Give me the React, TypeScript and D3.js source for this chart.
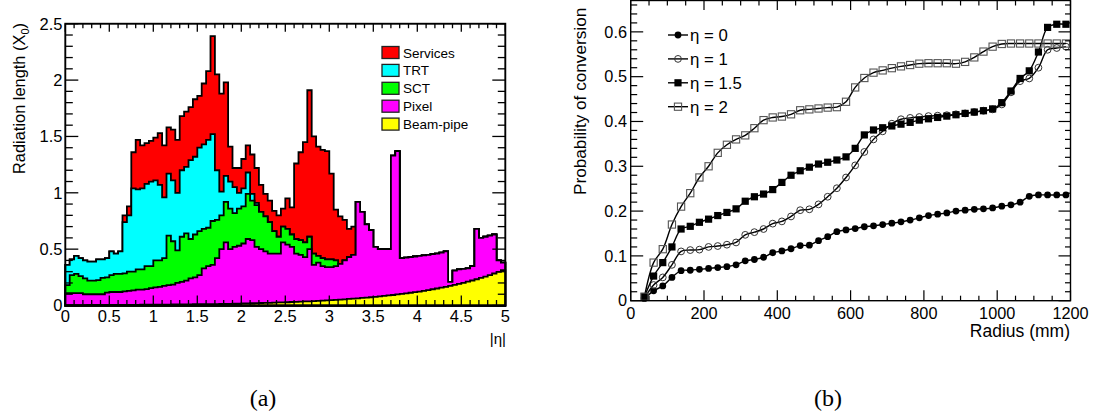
import React from "react";
import * as d3 from "d3";

// ---------- (a) material budget, stacked by sub-detector ----------
// Histogram bins in |eta| of width 0.05 starting at 0.
const ETA_BIN = 0.05;

// Cumulative radiation length (X0) up to and including each layer.
// Layers whose list ends early add nothing beyond that point.
const beamPipeTop = [
  0.004, 0.004, 0.004, 0.004, 0.004, 0.005, 0.005, 0.005, 0.005, 0.005,
  0.005, 0.005, 0.005, 0.006, 0.006, 0.006, 0.006, 0.007, 0.007, 0.007,
  0.007, 0.008, 0.008, 0.008, 0.009, 0.009, 0.009, 0.01, 0.01, 0.011,
  0.011, 0.012, 0.012, 0.013, 0.013, 0.014, 0.015, 0.015, 0.016, 0.017,
  0.018, 0.019, 0.02, 0.021, 0.022, 0.023, 0.024, 0.025, 0.027, 0.028,
  0.029, 0.031, 0.032, 0.034, 0.036, 0.037, 0.039, 0.041, 0.043, 0.045,
  0.047, 0.05, 0.052, 0.055, 0.058, 0.061, 0.064, 0.067, 0.07, 0.073,
  0.077, 0.081, 0.085, 0.089, 0.093, 0.098, 0.103, 0.108, 0.113, 0.118,
  0.124, 0.13, 0.137, 0.144, 0.151, 0.158, 0.166, 0.174, 0.183, 0.192,
  0.201, 0.211, 0.222, 0.233, 0.245, 0.257, 0.27, 0.284, 0.298, 0.313,
];

const pixelTop = [
  0.11, 0.11, 0.11, 0.11, 0.1, 0.1, 0.1, 0.1, 0.1, 0.115,
  0.12, 0.12, 0.12, 0.125, 0.13, 0.135, 0.14, 0.14, 0.145, 0.155,
  0.16, 0.165, 0.175, 0.18, 0.185, 0.2, 0.21, 0.22, 0.24, 0.25,
  0.27, 0.33, 0.35, 0.36, 0.42, 0.5, 0.56, 0.5, 0.52, 0.53,
  0.55, 0.59, 0.58, 0.52, 0.5, 0.48, 0.46, 0.46, 0.46, 0.56,
  0.54, 0.52, 0.46, 0.45, 0.43, 0.5, 0.36, 0.38, 0.35, 0.34,
  0.34, 0.35, 0.37, 0.4, 0.43, 0.45, 0.92, 0.83, 0.72, 0.67,
  0.52, 0.5, 0.5, 0.5, 1.33, 1.37, 0.42, 0.425, 0.43, 0.435,
  0.44, 0.445, 0.45, 0.455, 0.46, 0.47, 0.48, 0.21, 0.31, 0.32,
  0.325, 0.33, 0.35, 0.68, 0.6, 0.61, 0.62, 0.63, 0.4, 0.38,
];

const sctTop = [
  0.18, 0.27, 0.28, 0.26, 0.24, 0.22, 0.22, 0.225, 0.245, 0.25,
  0.27, 0.28, 0.28, 0.285, 0.3, 0.3, 0.32, 0.32, 0.35, 0.35,
  0.4, 0.4, 0.42, 0.62, 0.57, 0.49, 0.61, 0.64, 0.59, 0.63,
  0.66, 0.68, 0.69, 0.75, 0.76, 0.8, 0.92, 0.86, 0.82, 0.86,
  0.88, 0.99, 0.93, 0.89, 0.83, 0.79, 0.74, 0.66, 0.61, 0.7,
  0.68, 0.63, 0.59, 0.58, 0.56, 0.61, 0.46, 0.44, 0.42, 0.41,
  0.41, 0.4,
];

const trtTop = [
  0.36, 0.41, 0.44, 0.42, 0.4, 0.39, 0.39, 0.41, 0.41, 0.42,
  0.48, 0.46, 0.48, 0.74, 0.8, 1.04, 1.03, 1.04, 1.08, 1.1,
  1.11, 1.07, 0.96, 1.17, 1.11, 1.0, 1.2, 1.23, 1.29, 1.32,
  1.4, 1.43, 1.47, 1.52, 1.2, 1.01, 1.15, 1.1, 1.05, 1.0,
  1.04, 1.18, 0.99, 0.91,
];

const servicesTop = [
  0.36, 0.41, 0.44, 0.42, 0.4, 0.39, 0.39, 0.41, 0.41, 0.42,
  0.48, 0.46, 0.48, 0.8, 0.88, 1.36, 1.47, 1.42, 1.44, 1.46,
  1.49, 1.53, 1.42, 1.58, 1.56, 1.47, 1.68, 1.72, 1.76, 1.83,
  1.86, 1.97, 2.08, 2.39, 2.05, 1.88, 1.98, 1.41, 1.22, 1.22,
  1.3, 1.42, 1.34, 1.22, 1.07, 0.99, 0.93, 0.84, 0.8, 0.86,
  0.95, 0.87, 1.26, 1.36, 1.45, 1.91, 1.5, 1.41, 1.38, 1.37,
  1.17, 0.85, 0.79, 0.76, 0.68, 0.7,
];

const layerNames = ["Services", "TRT", "SCT", "Pixel", "Beam-pipe"];
const layerColors = ["#ff0000", "#00ffff", "#00ff00", "#ff00ff", "#ffff00"];

const etaTickLabels = ["0", "0.5", "1", "1.5", "2", "2.5", "3", "3.5", "4", "4.5", "5"];
const x0TickLabels = ["0", "0.5", "1", "1.5", "2", "2.5"];

// ---------- (b) conversion probability vs radius ----------
const radiusMm = [
  37.5, 62.5, 87.5, 112.5, 137.5, 162.5, 187.5, 212.5, 237.5, 262.5,
  287.5, 312.5, 337.5, 362.5, 387.5, 412.5, 437.5, 462.5, 487.5, 512.5,
  537.5, 562.5, 587.5, 612.5, 637.5, 662.5, 687.5, 712.5, 737.5, 762.5,
  787.5, 812.5, 837.5, 862.5, 887.5, 912.5, 937.5, 962.5, 987.5, 1012.5,
  1037.5, 1062.5, 1087.5, 1112.5, 1137.5, 1162.5, 1187.5,
];

const probEta0 = [
  0.005, 0.022, 0.033, 0.052, 0.067, 0.068, 0.07, 0.072, 0.074, 0.076,
  0.08, 0.089, 0.092, 0.097, 0.107, 0.111, 0.116, 0.123, 0.124, 0.134,
  0.143, 0.154, 0.158, 0.161, 0.165, 0.167, 0.17, 0.173, 0.176, 0.18,
  0.185, 0.19, 0.193, 0.196, 0.2, 0.202, 0.204, 0.205, 0.207, 0.211,
  0.214, 0.22, 0.233, 0.236, 0.236, 0.236, 0.236,
];

const probEta1 = [
  0.006, 0.035, 0.052, 0.08, 0.11, 0.113, 0.114, 0.12, 0.122, 0.125,
  0.13, 0.147, 0.153, 0.16, 0.172, 0.177, 0.188, 0.202, 0.204, 0.215,
  0.232, 0.251, 0.275, 0.302, 0.332, 0.36, 0.378, 0.395, 0.405, 0.408,
  0.41, 0.412, 0.413, 0.414, 0.416, 0.418, 0.421, 0.424, 0.427, 0.438,
  0.465, 0.49, 0.496, 0.52, 0.56, 0.564, 0.567,
];

const probEta15 = [
  0.009, 0.055, 0.085, 0.12, 0.16, 0.166, 0.175, 0.182, 0.19, 0.197,
  0.205, 0.222, 0.232, 0.238, 0.248, 0.264, 0.28, 0.29, 0.298, 0.305,
  0.309, 0.314, 0.321, 0.34, 0.37, 0.381, 0.386, 0.39, 0.394, 0.398,
  0.403, 0.406, 0.409, 0.412, 0.415, 0.418, 0.421, 0.424, 0.428, 0.442,
  0.468, 0.496, 0.513, 0.555, 0.61, 0.617, 0.617,
];

const probEta2 = [
  0.009, 0.085, 0.115, 0.17, 0.21, 0.24, 0.275, 0.3, 0.33, 0.348,
  0.36, 0.369, 0.385, 0.403, 0.409, 0.411, 0.416, 0.425, 0.427, 0.429,
  0.431, 0.432, 0.444, 0.476, 0.497, 0.509, 0.514, 0.519, 0.523, 0.526,
  0.529, 0.53, 0.53, 0.53, 0.529, 0.533, 0.543, 0.556, 0.567, 0.573,
  0.574, 0.574, 0.574, 0.574, 0.574, 0.574, 0.574,
];

const etaSeriesLabels = ["η = 0", "η = 1", "η = 1.5", "η = 2"];
const radiusTickLabels = ["0", "200", "400", "600", "800", "1000", "1200"];
const probTickLabels = ["0", "0.1", "0.2", "0.3", "0.4", "0.5", "0.6"];

const SANS = "'Liberation Sans', Arial, Helvetica, sans-serif";
const SERIF = "'Liberation Serif', 'DejaVu Serif', serif";

// Extend a cumulative layer with the layer below where it has no content.
const extendOver = (top: number[], below: number[]) =>
  below.map((v, i) => (i < top.length ? top[i] : v));

type Marker = "fcircle" | "ocircle" | "fsquare" | "osquare";

function MarkerShape({ kind, cx, cy }: { kind: Marker; cx: number; cy: number }) {
  const r = 3.4;
  const s = 7.2;
  if (kind === "fcircle") return <circle cx={cx} cy={cy} r={r} fill="#000" />;
  if (kind === "ocircle")
    return <circle cx={cx} cy={cy} r={r} fill="none" stroke="#333" strokeWidth={1} />;
  if (kind === "fsquare")
    return <rect x={cx - s / 2} y={cy - s / 2} width={s} height={s} fill="#000" />;
  return (
    <rect x={cx - s / 2} y={cy - s / 2} width={s} height={s} fill="none" stroke="#555" strokeWidth={1.1} />
  );
}

function PanelA() {
  const x = d3.scaleLinear().domain([0, 5]).range([65.3, 505.3]);
  const y = d3.scaleLinear().domain([0, 2.5]).range([305.5, 23.75]);

  const pix = pixelTop;
  const sct = extendOver(sctTop, pix);
  const trt = extendOver(trtTop, sct);
  const tot = extendOver(servicesTop, trt);
  const layers = [tot, trt, sct, pix, beamPipeTop];

  const line = d3.line();
  const stepPath = (vals: number[]) => {
    const pts: [number, number][] = [[x(0), y(0)]];
    vals.forEach((v, i) => {
      pts.push([x(i * ETA_BIN), y(v)], [x((i + 1) * ETA_BIN), y(v)]);
    });
    pts.push([x(vals.length * ETA_BIN), y(0)]);
    return (line(pts) || "") + "Z";
  };

  const xTicks = d3.range(0, 51).map((i) => ({ v: i / 10, major: i % 5 === 0 }));
  const yTicks = d3.range(0, 26).map((i) => ({ v: i / 10, major: i % 5 === 0 }));
  const [x0, x1] = x.range();
  const [yb, yt] = y.range();

  return (
    <g>
      {layers.map((vals, k) => (
        <path
          key={layerNames[k]}
          d={stepPath(vals)}
          fill={layerColors[k]}
          stroke="#000"
          strokeWidth={1.8}
          strokeLinejoin="miter"
        />
      ))}
      {/* frame */}
      <rect x={x0} y={yt} width={x1 - x0} height={yb - yt} fill="none" stroke="#000" strokeWidth={1.9} />
      {xTicks.map((t) => (
        <g key={"xt" + t.v}>
          <line x1={x(t.v)} x2={x(t.v)} y1={yb} y2={yb - (t.major ? 10 : 5.5)} stroke="#000" strokeWidth={1.3} />
          <line x1={x(t.v)} x2={x(t.v)} y1={yt} y2={yt + (t.major ? 8 : 4.5)} stroke="#000" strokeWidth={1.3} />
        </g>
      ))}
      {yTicks.map((t) => (
        <g key={"yt" + t.v}>
          <line x1={x0} x2={x0 + (t.major ? 13 : 7.5)} y1={y(t.v)} y2={y(t.v)} stroke="#000" strokeWidth={1.3} />
          <line x1={x1} x2={x1 - (t.major ? 13 : 7.5)} y1={y(t.v)} y2={y(t.v)} stroke="#000" strokeWidth={1.3} />
        </g>
      ))}
      {etaTickLabels.map((lab, i) => (
        <text key={"xl" + lab} x={x(i * 0.5)} y={322} textAnchor="middle" fontSize={16.5} fontFamily={SANS}>
          {lab}
        </text>
      ))}
      {x0TickLabels.map((lab, i) => (
        <text key={"yl" + lab} x={62.5} y={y(i * 0.5)} dy="0.35em" textAnchor="end" fontSize={16.5} fontFamily={SANS}>
          {lab}
        </text>
      ))}
      <text x={506} y={344} textAnchor="end" fontSize={15} fontFamily={SANS}>
        |η|
      </text>
      <text transform="translate(25,174) rotate(-90)" fontSize={16.4} fontFamily={SANS}>
        Radiation length (X
        <tspan fontSize={11} dy={4}>0</tspan>
        <tspan dy={-4}>)</tspan>
      </text>
      {/* legend */}
      {layerNames.map((name, k) => {
        const cy = 52.5 + 17.9 * k;
        return (
          <g key={"lg" + name}>
            <rect x={382} y={cy - 6} width={17} height={12} fill={layerColors[k]} stroke="#222" strokeWidth={1.3} />
            <text x={403} y={cy + 5} fontSize={13.5} fontFamily={SANS}>
              {name}
            </text>
          </g>
        );
      })}
    </g>
  );
}

function PanelB() {
  const x = d3.scaleLinear().domain([0, 1200]).range([630.7, 1070.5]);
  const y = d3.scaleLinear().domain([0, 0.67]).range([300.7, 0.5]);
  const [x0, x1] = x.range();
  const [yb, yt] = y.range();

  const series: { vals: number[]; marker: Marker }[] = [
    { vals: probEta0, marker: "fcircle" },
    { vals: probEta1, marker: "ocircle" },
    { vals: probEta15, marker: "fsquare" },
    { vals: probEta2, marker: "osquare" },
  ];

  const line = d3
    .line<number>()
    .x((_, i) => x(radiusMm[i]))
    .y((d) => y(d))
    .curve(d3.curveCatmullRom.alpha(0.5));

  const xTicks = d3.range(0, 25).map((i) => ({ v: i * 50, major: i % 4 === 0 }));
  const yTicks = d3.range(0, 34).map((i) => ({ v: i * 0.02, major: i % 5 === 0 }));

  return (
    <g>
      {series.map((s, k) => (
        <g key={"s" + k}>
          <path d={line(s.vals) || ""} fill="none" stroke="#000" strokeWidth={1.4} />
          {s.vals.map((v, i) => (
            <MarkerShape key={i} kind={s.marker} cx={x(radiusMm[i])} cy={y(v)} />
          ))}
        </g>
      ))}
      <rect x={x0} y={yt} width={x1 - x0} height={yb - yt} fill="none" stroke="#000" strokeWidth={1.4} />
      {xTicks.map((t) => (
        <g key={"xt" + t.v}>
          <line x1={x(t.v)} x2={x(t.v)} y1={yb} y2={yb - (t.major ? 10.5 : 5)} stroke="#000" strokeWidth={1.2} />
          <line x1={x(t.v)} x2={x(t.v)} y1={yt} y2={yt + (t.major ? 9.5 : 5)} stroke="#000" strokeWidth={1.2} />
        </g>
      ))}
      {yTicks.map((t) => (
        <g key={"yt" + t.v}>
          <line x1={x0} x2={x0 + (t.major ? 12.5 : 6.5)} y1={y(t.v)} y2={y(t.v)} stroke="#000" strokeWidth={1.2} />
          <line x1={x1} x2={x1 - (t.major ? 12 : 5.5)} y1={y(t.v)} y2={y(t.v)} stroke="#000" strokeWidth={1.2} />
        </g>
      ))}
      {radiusTickLabels.map((lab, i) => (
        <text key={"xl" + lab} x={x(i * 200)} y={318.5} textAnchor="middle" fontSize={16.3} fontFamily={SANS}>
          {lab}
        </text>
      ))}
      {probTickLabels.map((lab, i) => (
        <text key={"yl" + lab} x={627} y={y(i * 0.1)} dy="0.35em" textAnchor="end" fontSize={16.3} fontFamily={SANS}>
          {lab}
        </text>
      ))}
      <text x={1070} y={337} textAnchor="end" fontSize={17.5} fontFamily={SANS}>
        Radius (mm)
      </text>
      <text transform="translate(586,195) rotate(-90)" fontSize={17.2} fontFamily={SANS}>
        Probability of conversion
      </text>
      {/* legend */}
      {etaSeriesLabels.map((lab, k) => {
        const cy = 35 + 23.9 * k;
        return (
          <g key={"lg" + lab}>
            <line x1={668} x2={688} y1={cy} y2={cy} stroke="#000" strokeWidth={1.4} />
            <MarkerShape kind={series[k].marker} cx={678} cy={cy} />
            <text x={690} y={cy + 6} fontSize={16.8} fontFamily={SANS}>
              {lab}
            </text>
          </g>
        );
      })}
    </g>
  );
}

export default function App() {
  return (
    <svg
      width={1103}
      height={417}
      style={{ position: "absolute", left: 0, top: 0, background: "#fff" }}
    >
      <PanelA />
      <PanelB />
      <text x={263} y={406} textAnchor="middle" fontSize={24} fontFamily={SERIF}>
        (a)
      </text>
      <text x={828} y={406} textAnchor="middle" fontSize={24} fontFamily={SERIF}>
        (b)
      </text>
    </svg>
  );
}
